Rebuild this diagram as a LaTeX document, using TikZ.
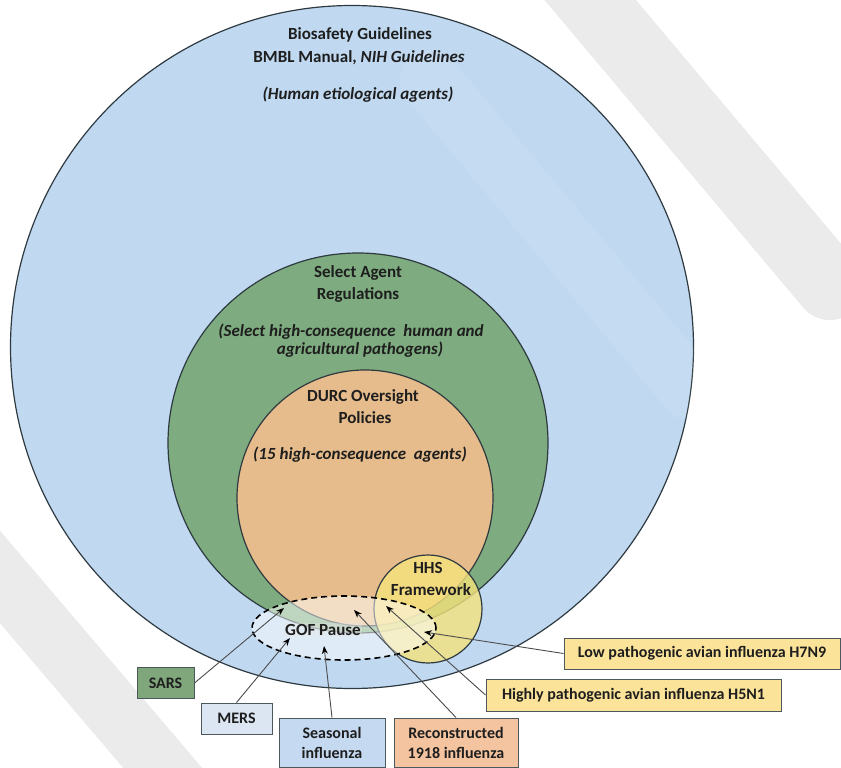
\documentclass[tikz,border=0pt]{standalone}
\usepackage{fontspec}
\setmainfont{Carlito}
\usetikzlibrary{arrows.meta,shapes.geometric}
\definecolor{blueC}{HTML}{C0D9F1}
\definecolor{greenC}{HTML}{7EAB7F}
\definecolor{orangeC}{HTML}{E6BC8C}
\definecolor{yellowC}{HTML}{F5E27C}
\definecolor{edgeC}{HTML}{2E3A40}
\definecolor{txtC}{HTML}{1E1E1E}
\definecolor{sarsC}{HTML}{80A77C}
\definecolor{mersC}{HTML}{DCE6F2}
\definecolor{seasC}{HTML}{C5D9F1}
\definecolor{reconC}{HTML}{F4C4A0}
\definecolor{avianC}{HTML}{FBE39A}
\definecolor{wmC}{HTML}{EBEBEB}
\tikzset{
  ring/.style={circle, draw=edgeC, line width=1.2pt, inner sep=0pt},
  lbl/.style={font=\bfseries\fontsize{17}{20}\selectfont, text=txtC, inner sep=0pt},
  boxlbl/.style={draw=edgeC!85, line width=1pt, font=\bfseries\fontsize{16}{20}\selectfont, text=txtC, inner sep=0pt, align=center},
  conn/.style={draw=black!70, line width=0.9pt, -{Stealth[length=8pt,width=6pt,black]}},
  wmband/.style={line cap=round, draw=wmC},
}
\begin{document}
\begin{tikzpicture}[x=1pt,y=-1pt]
\useasboundingbox (0,0) rectangle (841,768);
\fill[white] (0,0) rectangle (841,768);
% faint watermark bands
\draw[wmband, line width=70pt] (565,-30) -- (830,285);
\draw[wmband, line width=60pt] (-40,530) -- (190,800);
% nested circles
\node[ring, fill=blueC, minimum size=683pt] (bio) at (352,347) {};
\node[ring, fill=greenC, minimum size=380pt] (sel) at (358,443) {};
\node[ring, fill=orangeC, minimum size=256pt] (durc) at (365,498) {};
\node[ring, fill=yellowC, fill opacity=0.8, minimum size=108pt] (hhs) at (428,609) {};
\node[ellipse, draw=black, line width=1.6pt, dash pattern=on 6pt off 4pt, fill=white, fill opacity=0.5, minimum width=184pt, minimum height=64pt, inner sep=0pt] (gof) at (344,628) {};
% faint watermark over circles
\draw[line cap=round, line width=60pt, white, opacity=0.08] (430,80) -- (690,390);
% texts
\node[lbl] (t1) at (360,35) {Biosafety Guidelines};
\node[lbl] (t2) at (359,58) {BMBL Manual, \textit{NIH Guidelines}};
\node[lbl] (t3) at (358,95) {\textit{(Human etiological agents)}};
\node[lbl] (s1) at (358,273) {Select Agent};
\node[lbl] (s2) at (358,295) {Regulations};
\node[lbl] (s3) at (351,332) {\textit{(Select high-consequence\ \ human and}};
\node[lbl] (s4) at (360,350) {\textit{agricultural pathogens)}};
\node[lbl] (d1) at (363,397) {DURC Oversight};
\node[lbl] (d2) at (365,418) {Policies};
\node[lbl] (d3) at (360,455) {\textit{(15 high-consequence\ \ agents)}};
\node[lbl] (h1) at (428,568) {HHS};
\node[lbl] (h2) at (431,590) {Framework};
\node[lbl, fill=black!10, fill opacity=0.35, text opacity=1, inner sep=1.5pt] (g1) at (323,630) {GOF Pause};
% boxes
\node[boxlbl, fill=sarsC, minimum width=57pt, minimum height=31pt] (sars) at (165.5,683) {SARS};
\node[boxlbl, fill=mersC, minimum width=71pt, minimum height=31pt] (mers) at (236.5,718.5) {MERS};
\node[boxlbl, fill=seasC, minimum width=106pt, minimum height=49pt] (seas) at (332,742.5) {Seasonal\\influenza};
\node[boxlbl, fill=reconC, minimum width=124pt, minimum height=49pt] (recon) at (456,742.5) {Reconstructed\\1918 influenza};
\node[boxlbl, fill=avianC, minimum width=276pt, minimum height=31pt] (h7) at (702,653.5) {Low pathogenic avian influenza H7N9};
\node[boxlbl, fill=avianC, minimum width=295pt, minimum height=32pt] (h5) at (633.5,695) {Highly pathogenic avian influenza H5N1};
% arrow tips
\coordinate (aSARS) at (284,608);
\coordinate (aMERS) at (290,638);
\coordinate (aSEAS) at (324,646);
\coordinate (aRECON) at (354,610);
\coordinate (aH5) at (386,606);
\coordinate (aH7) at (424,632);
\draw[conn] (sars.east) -- (aSARS);
\draw[conn] (mers.north) -- (aMERS);
\draw[conn] (seas.north) -- (aSEAS);
\draw[conn] (recon.north) -- (aRECON);
\draw[conn] (h5.west) -- (aH5);
\draw[conn] (h7.west) -- (aH7);
\end{tikzpicture}
\end{document}
